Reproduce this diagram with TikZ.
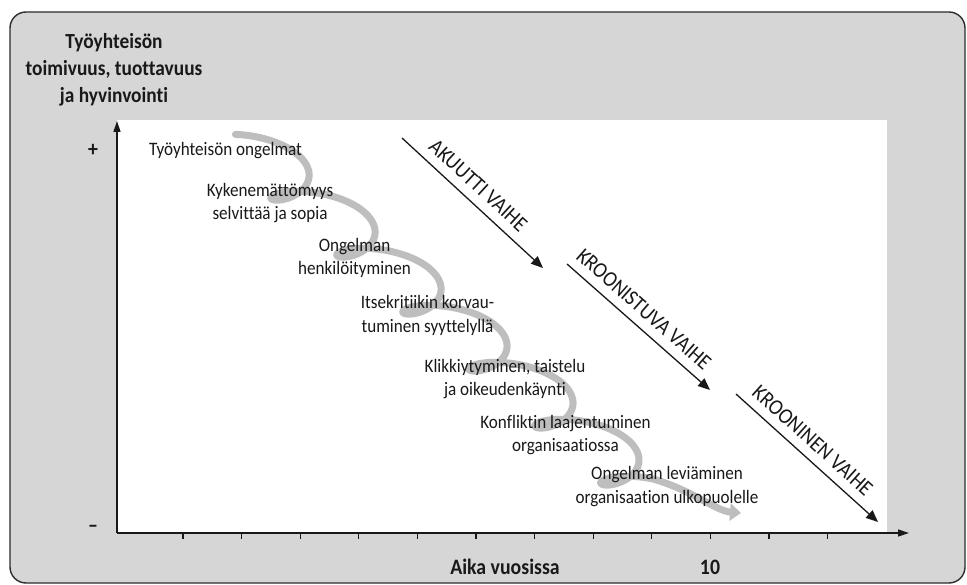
\documentclass[tikz,border=0pt]{standalone}
\usepackage{fontspec}
\setmainfont{Carlito}[Ligatures=NoCommon, FakeStretch=0.9]
\usetikzlibrary{arrows.meta}
\definecolor{bggray}{RGB}{214,214,214}
\definecolor{boxcol}{RGB}{45,45,45}
\definecolor{spiralcol}{RGB}{190,190,190}
\definecolor{inkcol}{RGB}{25,25,25}
\tikzset{
  boxline/.style={draw=boxcol, line width=1.4pt},
  axisline/.style={draw=inkcol, line width=1.4pt, -{Triangle[length=11pt,width=7pt]}},
  tickline/.style={draw=inkcol, line width=1.1pt},
  phasearrow/.style={draw=inkcol, line width=1.3pt, -{Triangle[length=12pt,width=10pt]}},
  phaselabel/.style={sloped, above=9pt, pos=0.46, inner sep=0pt, text=inkcol, font=\fontsize{22}{22}\selectfont},
  stagelabel/.style={align=center, inner sep=0pt, text=inkcol, font=\fontsize{19}{23.5}\selectfont},
  axtitle/.style={align=center, inner sep=0pt, text=inkcol, font=\bfseries\fontsize{21.5}{27}\selectfont},
  axlabel/.style={inner sep=0pt, text=inkcol, font=\bfseries\fontsize{22}{22}\selectfont},
  spiral/.style={draw=spiralcol, line width=7pt, line cap=round, -{Triangle[length=11pt,width=17pt]}}
}
\begin{document}
\begin{tikzpicture}[x=1pt,y=-1pt]
\useasboundingbox (0,0) rectangle (967,585);
\fill[white] (0,0) rectangle (967,585);
% outer panel
\draw[boxline, fill=bggray, rounded corners=16pt] (10,12) rectangle (965,583);
% plot area
\fill[white] (117,120) rectangle (887,533);

% spiral of escalation
\draw[spiral] plot[domain=-0.5:37.7, samples=700, variable=\t]
  ({257+10.5*\t+34*sin(\t r)}, {153+9.07*\t-16*cos(\t r)})
  .. controls (692,490) and (716,511) .. (741,513);

% axes
\coordinate (O) at (117,533);
\coordinate (ytip) at (117,121);
\coordinate (xtip) at (909,533);
\draw[axisline] (O) -- (ytip);
\draw[axisline] (O) -- (xtip);
\foreach \i in {0,...,11} {
  \coordinate (tk\i) at ({183+58.6*\i},533);
  \draw[tickline] (tk\i) -- ++(0,6);
}

% axis texts
\node[axtitle] (ytitle) at (114,70) {Työyhteisön\\toimivuus, tuottavuus\\ja hyvinvointi};
\node[axlabel] (plus) at (93,150) {+};
\node[axlabel] (minus) at (93,529) {–};
\node[axlabel] (xtitle) at (505,567) {Aika vuosissa};
\node[axlabel] (ten) at (710,567) {10};

% stages
\node[stagelabel] (s1) at (225.5,151) {Työyhteisön ongelmat};
\node[stagelabel] (s2) at (270,203) {Kykenemättömyys\\selvittää ja sopia};
\node[stagelabel] (s3) at (354.5,258) {Ongelman\\henkilöityminen};
\node[stagelabel] (s4) at (427.5,315.5) {Itsekritiikin korvau-\\tuminen syyttelyllä};
\node[stagelabel] (s5) at (505,379) {Klikkiytyminen, taistelu\\ja oikeudenkäynti};
\node[stagelabel] (s6) at (565.5,435) {Konfliktin laajentuminen\\organisaatiossa};
\node[stagelabel] (s7) at (667,486.5) {Ongelman leviäminen\\organisaation ulkopuolelle};

% phases
\coordinate (a1s) at (402,138);
\coordinate (a1e) at (543,268);
\coordinate (a2s) at (567,264);
\coordinate (a2e) at (710,390);
\coordinate (a3s) at (736,394);
\coordinate (a3e) at (878,522);
\draw[phasearrow] (a1s) -- node[phaselabel] (p1) {AKUUTTI VAIHE} (a1e);
\draw[phasearrow] (a2s) -- node[phaselabel] (p2) {KROONISTUVA VAIHE} (a2e);
\draw[phasearrow] (a3s) -- node[phaselabel] (p3) {KROONINEN VAIHE} (a3e);
\end{tikzpicture}
\end{document}
